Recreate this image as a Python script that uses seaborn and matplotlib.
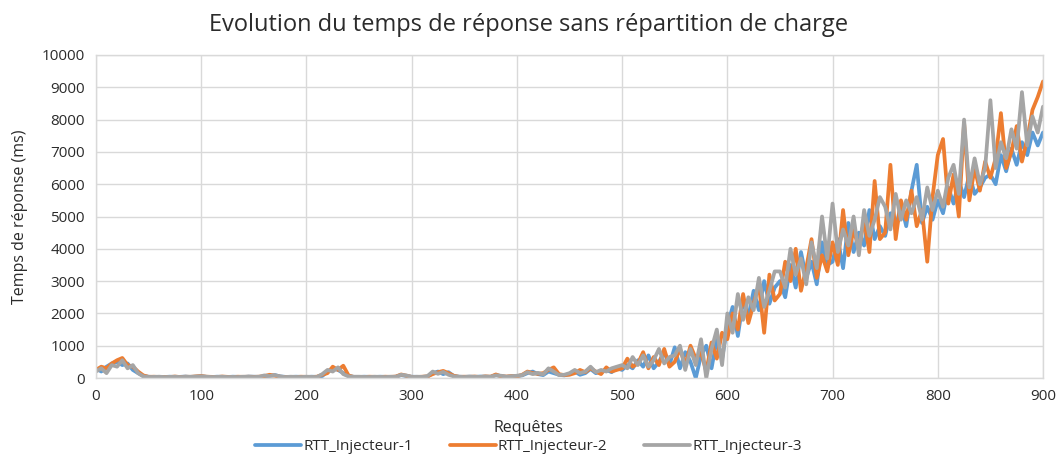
import numpy as np
import pandas as pd
import matplotlib
matplotlib.use("Agg")
import matplotlib.pyplot as plt
import seaborn as sns

# requests sampled every 5
requetes = list(range(0, 901, 5))

rtt_injecteur_1 = [
    300, 200, 350, 450, 500, 400, 450, 250, 150, 60,
    40, 30, 35, 30, 40, 30, 35, 45, 30, 40,
    55, 35, 30, 40, 35, 30, 40, 35, 30, 45,
    40, 35, 30, 70, 90, 50, 35, 30, 40, 35,
    30, 40, 35, 60, 200, 300, 250, 150, 60, 35,
    30, 40, 35, 30, 40, 35, 30, 40, 90, 60,
    40, 35, 30, 40, 150, 200, 120, 180, 60, 40,
    35, 40, 30, 45, 40, 35, 90, 60, 40, 50,
    60, 80, 150, 200, 120, 90, 200, 150, 100, 80,
    120, 200, 100, 150, 280, 150, 200, 250, 180, 300,
    250, 400, 300, 550, 350, 700, 300, 500, 800, 400,
    950, 300, 800, 500, 0, 700, 1000, 300, 1200, 600,
    1600, 2200, 1300, 2400, 1900, 2700, 2100, 3000, 2300, 2800,
    3000, 2500, 3500, 2800, 3900, 3100, 3600, 2900, 4200, 3500,
    3600, 4300, 3400, 4800, 3900, 4500, 4100, 5200, 4300, 4700,
    4400, 5100, 4600, 5400, 4700, 5800, 6600, 4800, 5300, 4900,
    5500, 5100, 5900, 5400, 6100, 5600, 6300, 5700, 5900, 6200,
    6300, 6000, 6900, 6400, 7100, 6600, 7300, 6900, 7600, 7200,
    7600,
]

rtt_injecteur_2 = [
    250, 350, 300, 450, 550, 620, 400, 350, 200, 80,
    35, 40, 30, 35, 30, 45, 30, 40, 35, 50,
    60, 40, 35, 30, 45, 35, 30, 40, 35, 40,
    35, 40, 60, 100, 70, 40, 30, 35, 30, 40,
    35, 30, 40, 100, 150, 350, 250, 380, 80, 30,
    35, 30, 40, 35, 30, 40, 35, 45, 110, 70,
    35, 30, 40, 50, 120, 180, 220, 150, 70, 35,
    40, 35, 45, 30, 50, 40, 110, 50, 45, 60,
    50, 100, 200, 150, 130, 150, 250, 330, 120, 90,
    100, 150, 250, 180, 300, 200, 120, 330, 200, 250,
    300, 600, 350, 450, 800, 300, 650, 400, 900, 350,
    500, 900, 400, 1000, 600, 800, 200, 1100, 600, 1400,
    1200, 2000, 1500, 2600, 1700, 2300, 2900, 1400, 3200, 2400,
    2600, 3600, 3000, 4000, 2700, 3400, 4300, 3100, 3800, 3300,
    4200, 3500, 5200, 3800, 4600, 4000, 4900, 3900, 6100, 4300,
    4500, 6600, 4300, 5500, 4900, 5800, 4700, 5200, 3600, 5600,
    6900, 7400, 5400, 6300, 5000, 7900, 5500, 6500, 5800, 6700,
    6200, 6800, 8200, 6500, 7000, 7800, 6700, 7400, 8300, 8700,
    9180,
]

rtt_injecteur_3 = [
    200, 300, 150, 400, 350, 550, 300, 400, 150, 50,
    30, 35, 40, 30, 35, 40, 30, 35, 40, 45,
    50, 40, 30, 35, 40, 30, 35, 30, 40, 35,
    30, 40, 80, 60, 90, 45, 30, 40, 35, 30,
    40, 35, 30, 120, 250, 200, 330, 120, 50, 40,
    40, 35, 30, 40, 35, 30, 40, 35, 100, 80,
    30, 40, 35, 60, 200, 130, 190, 100, 50, 40,
    30, 45, 40, 35, 45, 40, 80, 70, 35, 55,
    70, 90, 180, 120, 160, 110, 300, 200, 90, 100,
    150, 250, 150, 200, 350, 180, 250, 200, 300, 350,
    400, 300, 650, 400, 700, 350, 550, 900, 450, 650,
    700, 1000, 250, 900, 400, 1200, 0, 900, 1500, 400,
    2000, 1400, 2600, 1800, 2500, 2100, 3100, 2200, 2700, 3300,
    3300, 2800, 4000, 3200, 3700, 2900, 4200, 3400, 5000, 3700,
    5400, 3900, 4600, 4100, 5000, 3800, 5200, 4400, 4900, 5600,
    5300, 4600, 5700, 4900, 5500, 5100, 5600, 4900, 5900, 5200,
    5800, 5300, 6200, 6600, 5700, 8000, 5900, 6800, 6000, 6500,
    8600, 6500, 7300, 6800, 7700, 7100, 8850, 7200, 8100, 7600,
    8400,
]

series_names = ["RTT_Injecteur-1", "RTT_Injecteur-2", "RTT_Injecteur-3"]
couleurs = ["#5B9BD5", "#ED7D31", "#A5A5A5"]

df = pd.DataFrame({
    "Requêtes": requetes * 3,
    "RTT": rtt_injecteur_1 + rtt_injecteur_2 + rtt_injecteur_3,
    "serie": [series_names[0]] * len(requetes) + [series_names[1]] * len(requetes) + [series_names[2]] * len(requetes),
})

sns.set_style("white")
plt.rcParams["font.family"] = ["Open Sans", "DejaVu Sans"]
texte = "#2b2b2b"

fig = plt.figure(figsize=(10.57, 4.55), dpi=100)
ax = fig.add_axes([96 / 1057, 1 - 378 / 455, (1043 - 96) / 1057, (378 - 55) / 455])

sns.lineplot(data=df, x="Requêtes", y="RTT", hue="serie", palette=couleurs,
             linewidth=2.7, ax=ax, legend=False)

ax.set_xlim(0, 900)
ax.set_ylim(0, 10000)
ax.set_xticks(range(0, 901, 100))
ax.set_yticks(range(0, 10001, 1000))
ax.grid(True, color="#D9D9D9", linewidth=1)
ax.set_axisbelow(True)
for s in ax.spines.values():
    s.set_color("#D9D9D9")
    s.set_linewidth(1)
ax.tick_params(length=0, labelsize=11, colors=texte, pad=8)

ax.set_xlabel("")
ax.set_ylabel("Temps de réponse (ms)", fontsize=11.5, color=texte, labelpad=10)
fig.text(0.5, 1 - 428 / 455, "Requêtes", ha="center", va="center", fontsize=11.5, color=texte)
fig.text(0.5, 1 - 25 / 455, "Evolution du temps de réponse sans répartition de charge",
         ha="center", va="center", fontsize=17, color=texte)

handles = [plt.Line2D([], [], color=c, linewidth=2.7) for c in couleurs]
fig.legend(handles, series_names, loc="center", bbox_to_anchor=(0.5, 1 - 447 / 455),
           ncol=3, frameon=False, fontsize=11, handlelength=3.0, handletextpad=0.15,
           columnspacing=2.4, labelcolor=texte)

fig.savefig("out.png", dpi=100)
